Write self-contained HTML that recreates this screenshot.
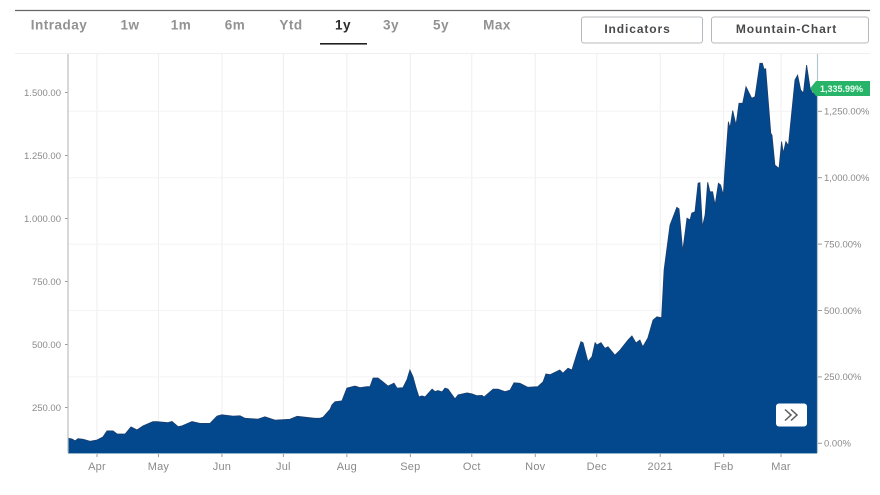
<!DOCTYPE html>
<html lang="en">
<head>
<meta charset="utf-8">
<title>Mountain chart</title>
<style>
html,body{margin:0;padding:0;background:#fff;}
body{width:880px;height:495px;overflow:hidden;position:relative;font-family:"Liberation Sans",sans-serif;}
#chart{position:absolute;left:0;top:0;filter:blur(0.35px);}
.tab{font-size:13.5px;font-weight:bold;fill:#929292;letter-spacing:.5px;cursor:pointer;text-anchor:middle;}
.tab.on{fill:#2b2b2b;}
.btn-t{font-size:12px;font-weight:bold;fill:#4a4a4a;letter-spacing:.9px;text-anchor:middle;}
.tick{font-size:9.5px;fill:#8a8a8a;}
.mon{font-size:11px;fill:#8a8a8a;text-anchor:middle;letter-spacing:.2px;}
</style>
</head>
<body>
<svg id="chart" width="880" height="495" viewBox="0 0 880 495" xmlns="http://www.w3.org/2000/svg">
  <line x1="15" y1="10.5" x2="870" y2="10.5" stroke="#666" stroke-width="1.2"/>
  <text class="tab" x="59" y="29.5">Intraday</text>
  <text class="tab" x="130" y="29.5">1w</text>
  <text class="tab" x="181" y="29.5">1m</text>
  <text class="tab" x="235" y="29.5">6m</text>
  <text class="tab" x="291" y="29.5">Ytd</text>
  <text class="tab on" x="343" y="29.5">1y</text>
  <text class="tab" x="391" y="29.5">3y</text>
  <text class="tab" x="441" y="29.5">5y</text>
  <text class="tab" x="497" y="29.5">Max</text>
  <rect x="320" y="43" width="47" height="1.6" fill="#222"/>
  <rect x="581.5" y="17" width="121" height="26" rx="2.5" fill="#fff" stroke="#b5b9bd"/>
  <text class="btn-t" x="637.5" y="33">Indicators</text>
  <rect x="711.5" y="17" width="157" height="26" rx="2.5" fill="#fff" stroke="#b5b9bd"/>
  <text class="btn-t" x="786.5" y="33">Mountain-Chart</text>
  <line x1="15" y1="53.5" x2="870" y2="53.5" stroke="#efefef"/>
  <g id="grid"></g>
  <path id="area" fill="#03478c"></path>
  <path id="outline" fill="none" stroke="#1c3f6e" stroke-width="0.8"></path>
  <g id="axes"></g>
  <path id="tagShape" fill="#27b469"></path>
  <text id="tagText" font-size="9" fill="#e9fff2" font-weight="bold"></text>
  <rect x="776" y="403.5" width="31" height="23" rx="3" fill="#fff"/>
  <path d="M785 409.5l6 5.5-6 5.5M791 409.5l6 5.5-6 5.5" fill="none" stroke="#5c5c5c" stroke-width="1.5"/>
</svg>
<script>
// days since 1 Apr 2020
const days = [-14.2,-12.2,-10.7,-9.3,-6.8,-3.4,0,2.9,4.9,7.8,9.8,13.7,16.6,19.5,22.5,27.3,29.3,34.7,36.6,39.6,41.5,46.4,50.3,55.2,58.6,61,66.4,69.8,72.3,78.6,82,86.9,94.2,97.7,106.4,108.9,110.4,113.8,114.7,116.2,119.6,122,126,128.4,131.8,133.3,134.8,137.2,139.6,142.1,145,146.5,149.4,151.4,152.8,154.3,155.8,157.2,158.7,160.2,163.6,165,166.5,168.5,169.9,171.4,174.8,176.3,180.7,183.1,185.5,188,189,193.4,195.8,199.2,201.7,203.6,206.5,210.4,215.3,217.8,219.2,221.2,226,227.5,230,231.9,234.4,236.3,237.3,239.7,241.7,243.2,244.1,246.1,248,249.5,252.9,255.4,259.3,261.2,263.2,265.1,266.5,269,271.5,273.4,275.7,276.9,279.8,283.1,284.2,286,288.1,289.6,290.4,292,293.5,294.4,295.6,296.9,298.2,299.3,300.6,301.8,303.4,304.5,305.8,306.6,308.3,309.1,310.4,312,313.5,315.3,316.9,319.7,321.3,323.7,324.9,325.7,326.5,329,329.6,331,333,334.3,335.1,336.4,337.6,340.8,342.1,343.6,344.9,346.5,348.2,349.3,351.6];
const prices = [128,125,118,126,124,116,121,133,157,157,145,145,173,161,177,194,194,190,195,174,177,194,187,187,216,221,216,217,207,204,213,200,203,215,207,207,212,243,260,273,276,327,335,329,333,333,367,367,352,335,347,327,329,362,399,372,327,292,296,292,323,313,317,312,327,323,284,300,308,304,297,298,292,323,323,313,319,348,346,330,333,352,383,380,399,386,406,399,465,511,507,432,452,507,498,507,485,491,458,478,518,534,506,518,491,526,597,610,606,796,974,1044,1038,871,1001,994,1021,1027,1140,1142,967,1014,1144,1106,1106,1054,1140,1133,1093,1192,1384,1359,1428,1371,1457,1457,1523,1477,1483,1616,1616,1592,1594,1338,1331,1212,1199,1305,1259,1305,1289,1550,1569,1510,1498,1609,1517,1498,1498];
const monthLabels = ["Apr","May","Jun","Jul","Aug","Sep","Oct","Nov","Dec","2021","Feb","Mar"];
const monthDays = [0,30,61,91,122,153,183,214,244,275,306,334];
const priceTicks = [250,500,750,1000,1250,1500];
const priceTickLabels = ["250.00","500.00","750.00","1.000.00","1.250.00","1.500.00"];
const pctTicks = [0,250,500,750,1000,1250];
const pctTickLabels = ["0.00%","250.00%","500.00%","750.00%","1,000.00%","1,250.00%"];
const lastPctLabel = "1,335.99%";
const lastPct = 1335.99;

const NS = "http://www.w3.org/2000/svg";
const left = 68, right = 817, top0 = 54, base = 453;
function xDay(d){ return 97 + d * 2.048; }
function yPrice(v){ return 407.5 - (v - 250) * 63 / 250; }
function yPct(p){ return 443.3 - p * 66.4 / 250; }
function mk(parent, tag, attrs){
  const el = document.createElementNS(NS, tag);
  for (const k in attrs) el.setAttribute(k, attrs[k]);
  parent.appendChild(el);
  return el;
}
const grid = document.getElementById("grid");
const axes = document.getElementById("axes");

monthDays.forEach(function(d, i){
  const x = xDay(d);
  const g = mk(grid, "line", {x1:x, x2:x, y1:top0, y2:base, stroke:"#eeeeee"});
  
  
  const t = mk(axes, "line", {x1:x, x2:x, y1:base, y2:base + 4, stroke:"#9a9a9a"});
  
  
  const l = mk(axes, "text", {x:x, y:470, "class":"mon"});
  l.textContent = monthLabels[i];
  
  
});
pctTicks.forEach(function(p, i){
  const y = yPct(p);
  const g = mk(grid, "line", {x1:left, x2:right, y1:y, y2:y, stroke:"#f4f4f4"});
  
  
  const t = mk(axes, "line", {x1:right + 1, x2:right + 5, y1:y, y2:y, stroke:"#9a9a9a"});
  
  
  const l = mk(axes, "text", {x:824, y:y + 3.3, "class":"tick"});
  l.textContent = pctTickLabels[i];
  
  
});
priceTicks.forEach(function(v, i){
  const y = yPrice(v);
  const t = mk(axes, "line", {x1:left - 3, x2:left, y1:y, y2:y, stroke:"#9a9a9a"});
  
  
  const l = mk(axes, "text", {x:61, y:y + 3.3, "class":"tick", "text-anchor":"end"});
  l.textContent = priceTickLabels[i];
  
  
});
const leftAxis = mk(axes, "line", {x1:left, x2:left, y1:top0, y2:base, stroke:"#bdbdbd", "stroke-width":1.2});


const rightAxis = mk(axes, "line", {x1:right + .5, x2:right + .5, y1:top0, y2:base, stroke:"#b4c6d3", "stroke-width":1.2});


const bottomAxis = mk(axes, "line", {x1:left, x2:right, y1:base + .5, y2:base + .5, stroke:"#8fb3c9", "stroke-width":1});



let line = "";
days.forEach(function(d, i){
  line += (i ? "L" : "M") + xDay(d).toFixed(1) + " " + yPrice(prices[i]).toFixed(1);
});
document.getElementById("outline").setAttribute("d", line);
document.getElementById("area").setAttribute("d",
  line + "L" + xDay(days[days.length - 1]).toFixed(1) + " " + base + "L" + xDay(days[0]).toFixed(1) + " " + base + "Z");

const ty = yPct(lastPct);
document.getElementById("tagShape").setAttribute("d",
  "M810 " + ty + "L816 " + (ty - 7.5) + "H870V" + (ty + 7.5) + "H816Z");
const tagText = document.getElementById("tagText");
tagText.setAttribute("x", 820);
tagText.setAttribute("y", ty + 3.3);
tagText.textContent = lastPctLabel;
</script>
</body>
</html>
